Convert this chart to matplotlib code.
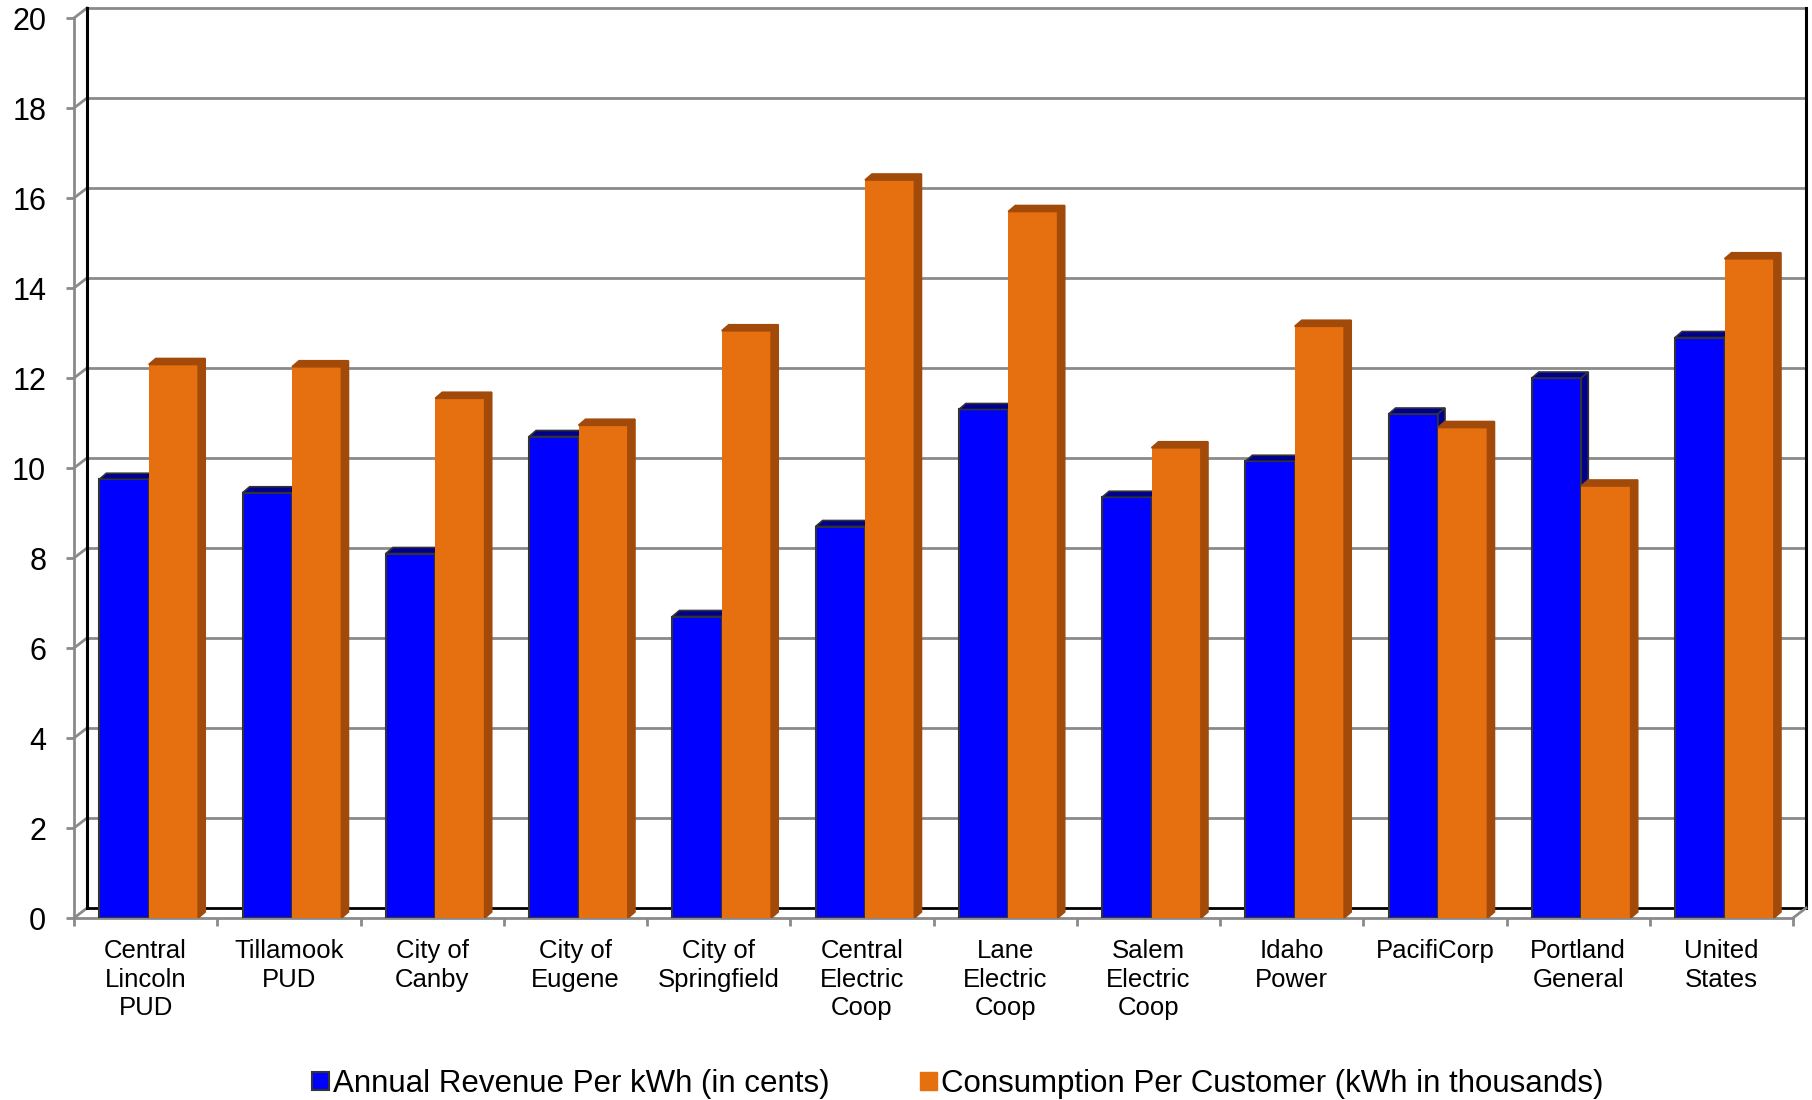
import numpy as np
import matplotlib.pyplot as plt
from matplotlib.patches import Polygon, Patch

plt.rcParams['font.family'] = ['Liberation Sans', 'DejaVu Sans']

# Datos
categories = ["Central\nLincoln\nPUD", "Tillamook\nPUD", "City of\nCanby", "City of\nEugene",
              "City of\nSpringfield", "Central\nElectric\nCoop", "Lane\nElectric\nCoop",
              "Salem\nElectric\nCoop", "Idaho\nPower", "PacifiCorp", "Portland\nGeneral",
              "United\nStates"]
revenue = [9.75, 9.45, 8.1, 10.7, 6.7, 8.7, 11.3, 9.35, 10.15, 11.2, 12.0, 12.9]
consumption = [12.3, 12.25, 11.55, 10.95, 13.05, 16.4, 15.7, 10.45, 13.15, 10.9, 9.6, 14.65]
series_names = ["Annual Revenue Per kWh (in cents)",
                "Consumption Per Customer (kWh in thousands)"]
yticks = np.arange(0, 21, 2)

blue, blue_dark = '#0000FF', '#00008E'
orange, orange_dark = '#E66F0F', '#A24A0A'
grid_c = '#8a8a8a'

fig = plt.figure(figsize=(18.12, 11), dpi=100)
ax = fig.add_axes([74 / 1812, 182 / 1100, 1719 / 1812, 900 / 1100])
n = len(categories)
ax.set_xlim(0, n)
ax.set_ylim(0, 20)

# desplazamiento 3D (pared del fondo) y profundidad de las barras
bx, by = 13 / 143.25, 10 / 45
dx, dy = 7 / 143.25, 6 / 45

# pared del fondo y pared izquierda
for v in yticks:
    ax.plot([bx, n + bx], [v + by, v + by], color='black' if v == 0 else grid_c,
            lw=2, clip_on=False, zorder=1)
    ax.plot([0, bx], [v, v + by], color=grid_c, lw=2, clip_on=False, zorder=1)
ax.plot([bx, bx], [by, 20 + by], color='black', lw=2.2, clip_on=False, zorder=1)
ax.plot([n + bx, n + bx], [by, 20 + by], color='black', lw=2.2, clip_on=False, zorder=1)
ax.plot([n, n + bx], [0, by], color=grid_c, lw=2, clip_on=False, zorder=1)

x = np.arange(n)
w = 0.345
x_blue = x + 0.177
x_orange = x_blue + w


def bar3d(x0, v, front, dark, edge, z):
    ax.bar(x0, v, width=w, align='edge', color=front, edgecolor=edge,
           linewidth=1.5 if edge != 'none' else 0, zorder=z)
    x1 = x0 + w
    top = [(x0, v), (x0 + dx, v + dy), (x1 + dx, v + dy), (x1, v)]
    side = [(x1, 0), (x1, v), (x1 + dx, v + dy), (x1 + dx, dy)]
    for pts in (top, side):
        ax.add_patch(Polygon(pts, closed=True, facecolor=dark,
                             edgecolor=edge if edge != 'none' else dark,
                             linewidth=1.2, zorder=z))


for i in range(n):
    bar3d(x_blue[i], revenue[i], blue, blue_dark, '#333333', 3 + 2 * i)
    bar3d(x_orange[i], consumption[i], orange, orange_dark, 'none', 4 + 2 * i)

# ejes
for s in ['top', 'right']:
    ax.spines[s].set_visible(False)
for s in ['left', 'bottom']:
    ax.spines[s].set_color(grid_c)
    ax.spines[s].set_linewidth(2)
ax.set_yticks(yticks)
ax.set_yticklabels([str(v) for v in yticks], fontsize=22)
ax.tick_params(axis='y', length=6, width=2, color=grid_c, pad=14)
ax.set_xticks(x + 0.5)
ax.set_xticklabels(categories, fontsize=18.5, linespacing=1.25)
ax.tick_params(axis='x', which='major', length=0, pad=15)
ax.set_xticks(np.arange(n + 1), minor=True)
ax.tick_params(axis='x', which='minor', length=6, width=2, color=grid_c)

handles = [Patch(facecolor=blue, edgecolor='#333333', linewidth=1.5),
           Patch(facecolor=orange, edgecolor=orange)]
fig.legend(handles, series_names, loc='center left', bbox_to_anchor=(312 / 1812, 16 / 1100),
           ncol=2, frameon=False, fontsize=22.5, handlelength=0.55, handleheight=0.55,
           handletextpad=0.12, columnspacing=2.9, borderpad=0, borderaxespad=0)

fig.savefig('out.png', dpi=100)
